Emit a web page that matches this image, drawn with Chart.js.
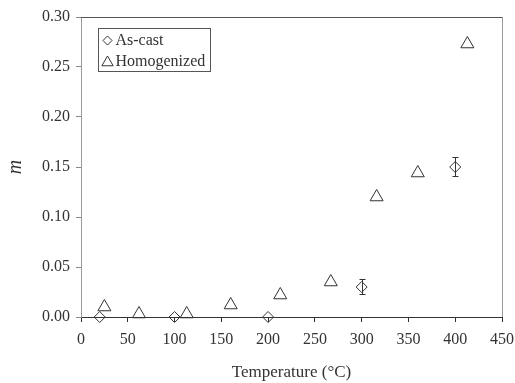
<!DOCTYPE html>
<html>
<head>
<meta charset="utf-8">
<script src="https://cdn.jsdelivr.net/npm/chart.js@4/dist/chart.umd.min.js"></script>
<style>
  html,body{margin:0;padding:0;background:#fff;}
  #wrap{width:515px;height:383px;}
</style>
</head>
<body>
<div id="wrap"><canvas id="c" width="515" height="383"></canvas></div>
<script>
// data
const asCastT = [20, 100, 200, 300, 400];
const asCastM = [0, 0, 0, 0.030, 0.150];
const asCastErr = [0, 0, 0, 0.0075, 0.0095];
const homogT = [25, 62, 113, 160, 213, 267, 316, 360, 413];
const homogM = [0.010, 0.003, 0.003, 0.012, 0.022, 0.035, 0.120, 0.144, 0.273];
const xTicks = [0, 50, 100, 150, 200, 250, 300, 350, 400, 450];
const yTicks = [0, 0.05, 0.10, 0.15, 0.20, 0.25, 0.30];
const seriesNames = ["As-cast", "Homogenized"];

const ink = "#333";
const serif = "'Liberation Serif', 'DejaVu Serif', serif";

// box around plot area, error bars and legend
const extras = {
  id: "extras",
  afterDatasetsDraw(chart){
    const ctx = chart.ctx, a = chart.chartArea;
    const xs = chart.scales.x, ys = chart.scales.y;
    ctx.save();
    ctx.lineWidth = 1;
    ctx.strokeStyle = "#555";
    ctx.beginPath();
    ctx.moveTo(a.left, a.top + 0.5); ctx.lineTo(a.right + 0.5, a.top + 0.5);
    ctx.stroke();
    ctx.strokeStyle = "#999";
    ctx.beginPath();
    ctx.moveTo(a.right + 0.5, a.top); ctx.lineTo(a.right + 0.5, a.bottom);
    ctx.stroke();

    // error bars
    ctx.strokeStyle = ink;
    asCastT.forEach((t, i) => {
      const e = asCastErr[i];
      if(!e) return;
      const px = Math.round(xs.getPixelForValue(t)) + 0.5;
      const y1 = ys.getPixelForValue(asCastM[i] + e);
      const y2 = ys.getPixelForValue(asCastM[i] - e);
      ctx.beginPath();
      ctx.moveTo(px, y1); ctx.lineTo(px, y2);
      ctx.moveTo(px - 3, y1); ctx.lineTo(px + 3, y1);
      ctx.moveTo(px - 3, y2); ctx.lineTo(px + 3, y2);
      ctx.stroke();
    });

    // legend
    const lx = 98.5, ly = 28.5, lw = 112, lh = 43;
    ctx.fillStyle = "#fff";
    ctx.fillRect(lx, ly, lw, lh);
    ctx.strokeStyle = "#555";
    ctx.strokeRect(lx, ly, lw, lh);
    const styles = [{pointStyle:"rectRot", radius:4.5}, {pointStyle:"triangle", radius:6.5}];
    ctx.font = "16px " + serif;
    ctx.textBaseline = "middle";
    ctx.textAlign = "left";
    seriesNames.forEach((name, i) => {
      const cy = ly + 12 + i * 21;
      ctx.strokeStyle = ink;
      ctx.fillStyle = "#fff";
      ctx.lineWidth = 1;
      Chart.helpers.drawPoint(ctx, {pointStyle: styles[i].pointStyle, radius: styles[i].radius, rotation: 0, borderWidth: 1}, lx + 9, cy + (i ? 1 : 0));
      ctx.fillStyle = ink;
      ctx.fillText(name, lx + 17, cy);
    });
    ctx.restore();
  }
};

new Chart(document.getElementById("c"), {
  type: "scatter",
  data: {
    datasets: [
      {
        label: seriesNames[0],
        data: asCastT.map((t, i) => ({x: t, y: asCastM[i]})),
        pointStyle: "rectRot",
        pointRadius: 5.5,
        pointBorderColor: ink,
        pointBackgroundColor: "rgba(255,255,255,0)",
        pointBorderWidth: 1,
        clip: false
      },
      {
        label: seriesNames[1],
        data: homogT.map((t, i) => ({x: t, y: homogM[i]})),
        pointStyle: "triangle",
        pointRadius: 7.5,
        pointBorderColor: ink,
        pointBackgroundColor: "rgba(255,255,255,0)",
        pointBorderWidth: 1,
        clip: false
      }
    ]
  },
  options: {
    responsive: false,
    animation: false,
    layout: { padding: { left: 4, top: 17, right: 13, bottom: 0 } },
    plugins: { legend: { display: false }, tooltip: { enabled: false } },
    scales: {
      x: {
        type: "linear", min: 0, max: 450,
        afterBuildTicks: s => { s.ticks = xTicks.map(v => ({value: v})); },
        afterFit: s => { s.height = 66; s.paddingLeft = 0; s.paddingRight = 0; },
        grid: { drawOnChartArea: false, tickLength: 5, color: ink },
        border: { color: ink, width: 1 },
        ticks: { color: ink, font: { family: serif, size: 16 }, padding: 8, maxRotation: 0 },
        title: { display: true, text: "Temperature (°C)", color: ink, font: { family: serif, size: 17 }, padding: { top: 0, bottom: 0 } }
      },
      y: {
        type: "linear", min: 0, max: 0.30,
        afterBuildTicks: s => { s.ticks = yTicks.map(v => ({value: v})); },
        afterFit: s => { s.width = 77; s.paddingTop = 0; s.paddingBottom = 0; },
        grid: { drawOnChartArea: false, tickLength: 5, color: "#888" },
        border: { color: "#999", width: 1 },
        ticks: { color: ink, font: { family: serif, size: 16 }, padding: 6, callback: v => v.toFixed(2) },
        title: { display: true, text: "m", color: ink, font: { family: serif, size: 20, style: "italic" }, padding: { top: 0, bottom: 0 } }
      }
    }
  },
  plugins: [extras]
});
</script>
</body>
</html>
